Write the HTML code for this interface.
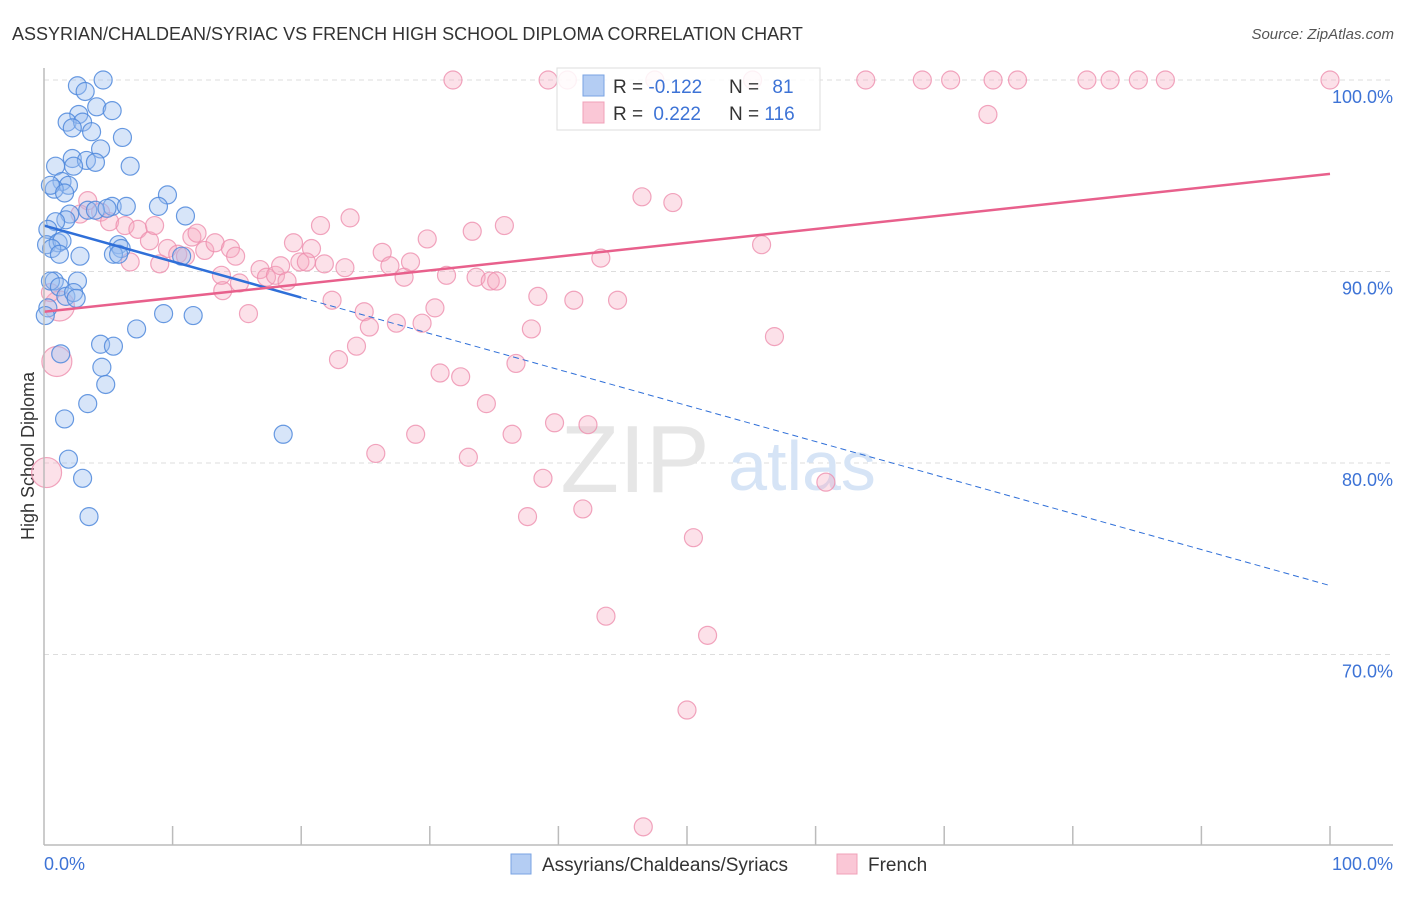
<!DOCTYPE html>
<html><head><meta charset="utf-8"><style>
body{margin:0;background:#fff;font-family:"Liberation Sans",sans-serif;}
svg text{font-family:"Liberation Sans",sans-serif;}
</style></head><body>
<svg id="chart" width="1406" height="892" xmlns="http://www.w3.org/2000/svg">
<text x="12" y="40" font-size="18" fill="#333">ASSYRIAN/CHALDEAN/SYRIAC VS FRENCH HIGH SCHOOL DIPLOMA CORRELATION CHART</text>
<text x="1394" y="39" font-size="15" fill="#555" font-style="italic" text-anchor="end">Source: ZipAtlas.com</text>
<text transform="translate(34,456) rotate(-90)" font-size="18" fill="#333" text-anchor="middle">High School Diploma</text>
<g id="grid"></g>
<g><text x="635" y="492" font-size="96" fill="#e6e6e6" text-anchor="middle" font-family="Liberation Serif,serif">ZIP</text><text x="802" y="490" font-size="70" fill="#d6e4f6" text-anchor="middle">atlas</text></g>
<g id="marks"></g>
<g id="axes"></g>
<g>
<rect x="557" y="68" width="263" height="62" fill="#fff" fill-opacity="0.85" stroke="#ddd"/>
<rect x="583" y="75" width="21" height="21" fill="#b4cdf3" stroke="#7aa3e3"/>
<rect x="583" y="102" width="21" height="21" fill="#fac7d6" stroke="#f0a0b8"/>
<text x="613" y="93" font-size="19" fill="#333">R = <tspan fill="#3d73d6">-0.122</tspan></text>
<text x="729" y="93" font-size="19" fill="#333">N = <tspan fill="#3d73d6" dx="8">81</tspan></text>
<text x="613" y="120" font-size="19" fill="#333">R = <tspan fill="#3d73d6" dx="5">0.222</tspan></text>
<text x="729" y="120" font-size="19" fill="#333">N = <tspan fill="#3d73d6">116</tspan></text>
</g>
<g>
<rect x="511" y="854" width="20" height="20" fill="#b4cdf3" stroke="#7aa3e3"/>
<text x="542" y="871" font-size="19" fill="#333">Assyrians/Chaldeans/Syriacs</text>
<rect x="837" y="854" width="20" height="20" fill="#fac7d6" stroke="#f0a0b8"/>
<text x="868" y="871" font-size="19" fill="#333">French</text>
</g>
</svg>
<script>
const yTicks=[100,90,80,70];
const xTickLabels=["0.0%","100.0%"];
const blueX=[2.6,3.2,4.6,4.1,5.3,2.7,1.8,3.0,3.7,2.2,6.1,4.4,2.2,3.3,4.0,0.9,6.7,2.3,1.4,1.9,0.8,0.5,1.6,5.3,6.4,9.6,8.9,3.4,4.0,4.9,11.0,2.0,1.7,0.9,0.3,0.2,1.1,1.4,0.6,5.8,6.0,5.4,5.8,2.8,10.7,1.2,0.8,0.5,1.2,2.6,1.7,2.3,2.5,0.3,9.3,11.6,7.2,4.4,5.4,1.3,4.5,4.8,3.4,1.6,18.6,1.9,3.0,3.5,0.1];
const blueY=[99.7,99.4,100.0,98.6,98.4,98.2,97.8,97.8,97.3,97.5,97.0,96.4,95.9,95.8,95.7,95.5,95.5,95.5,94.7,94.5,94.3,94.5,94.1,93.4,93.4,94.0,93.4,93.2,93.2,93.3,92.9,93.0,92.7,92.6,92.2,91.4,91.5,91.6,91.2,91.4,91.2,90.9,90.9,90.8,90.8,90.9,89.5,89.5,89.2,89.5,88.7,88.9,88.6,88.1,87.8,87.7,87.0,86.2,86.1,85.7,85.0,84.1,83.1,82.3,81.5,80.2,79.2,77.2,87.7];
const pinkX=[31.8,39.2,40.7,47.5,55.1,63.9,68.3,70.5,73.8,75.7,81.1,82.9,85.1,87.2,100,73.4,46.5,48.9,3.4,2.8,4.4,5.1,6.3,7.3,8.2,8.6,9.6,10.4,11.5,11.9,12.5,13.3,14.5,14.9,15.2,13.9,15.9,16.8,17.3,18.0,18.4,18.9,19.4,19.9,20.8,20.4,21.5,21.8,23.4,23.8,22.4,24.9,25.3,24.3,22.9,26.3,26.9,28.0,28.5,29.8,30.4,29.4,27.4,31.3,33.3,33.6,34.7,35.2,35.8,38.4,41.2,44.6,37.9,36.7,30.8,32.4,34.4,28.9,25.8,33.0,36.4,39.7,42.3,38.8,37.6,41.9,50.5,43.7,51.6,50.0,46.6,55.8,43.3,56.8,60.8,0.2,1.0,1.2,0.5,9.0,6.7,11.0,13.8];
const pinkY=[100,100,100,100,100,100,100,100,100,100,100,100,100,100,100,98.2,93.9,93.6,93.7,93.0,93.1,92.6,92.4,92.2,91.6,92.4,91.2,90.9,91.8,92.0,91.1,91.5,91.2,90.8,89.4,89.0,87.8,90.1,89.7,89.8,90.3,89.5,91.5,90.5,91.2,90.5,92.4,90.4,90.2,92.8,88.5,87.9,87.1,86.1,85.4,91.0,90.3,89.7,90.5,91.7,88.1,87.3,87.3,89.8,92.1,89.7,89.5,89.5,92.4,88.7,88.5,88.5,87.0,85.2,84.7,84.5,83.1,81.5,80.5,80.3,81.5,82.1,82.0,79.2,77.2,77.6,76.1,72.0,71.0,67.1,61.0,91.4,90.7,86.6,79.0,79.5,85.3,88.2,88.9,90.4,90.5,90.8,89.8];
const pinkBig=[95,96,97];
const blueLine=[92.4,73.6];
const blueSolidEnd=20;
const pinkLine=[87.9,95.1];

const NS="http://www.w3.org/2000/svg";
const X=v=>44+v*12.86;
const Y=v=>80+(100-v)*19.15;
function mk(t,a,p){const e=document.createElementNS(NS,t);for(const k in a)e.setAttribute(k,a[k]);p.appendChild(e);return e;}
const grid=document.getElementById('grid'),axes=document.getElementById('axes'),marks=document.getElementById('marks');
yTicks.forEach(v=>{
 const l=mk('line',{x1:44,x2:1393,y1:Y(v),y2:Y(v),stroke:'#ddd','stroke-dasharray':'5,4'},grid);
 
 
 const t=mk('text',{x:1393,y:Y(v)+23,'font-size':18,fill:'#3d73d6','text-anchor':'end'},axes);
 t.textContent=v.toFixed(1)+'%';
 
 
});
mk('line',{x1:44,x2:44,y1:68,y2:845,stroke:'#bbb','stroke-width':1.5},axes);
mk('line',{x1:44,x2:1393,y1:845,y2:845,stroke:'#bbb','stroke-width':1.5},axes);
for(let i=1;i<=10;i++){const tk=mk('line',{x1:X(i*10),x2:X(i*10),y1:826,y2:845,stroke:'#bbb','stroke-width':1.5},axes);
 
 }
const xl0=mk('text',{x:44,y:870,'font-size':18,fill:'#3d73d6'},axes);xl0.textContent=xTickLabels[0];


const xl1=mk('text',{x:1393,y:870,'font-size':18,fill:'#3d73d6','text-anchor':'end'},axes);xl1.textContent=xTickLabels[1];


pinkX.forEach((v,i)=>{
 const big=pinkBig.includes(i);
 const c=mk('circle',{cx:X(v),cy:Y(pinkY[i]),r:big?15:9,fill:'#f7a8c0','fill-opacity':0.35,stroke:'#ee8fae','stroke-opacity':0.8,'stroke-width':1.2},marks);
 
 
});
blueX.forEach((v,i)=>{
 const c=mk('circle',{cx:X(v),cy:Y(blueY[i]),r:9,fill:'#9bbdf0','fill-opacity':0.4,stroke:'#4f88dc','stroke-opacity':0.85,'stroke-width':1.2},marks);
 
 
});
const by=x=>blueLine[0]+(blueLine[1]-blueLine[0])*x/100;
const bl=mk('line',{x1:X(0),y1:Y(by(0)),x2:X(blueSolidEnd),y2:Y(by(blueSolidEnd)),stroke:'#2f6fd8','stroke-width':2.5},marks);


const bd=mk('line',{x1:X(blueSolidEnd),y1:Y(by(blueSolidEnd)),x2:X(100),y2:Y(by(100)),stroke:'#2f6fd8','stroke-width':1,'stroke-dasharray':'6,4'},marks);


const pl=mk('line',{x1:X(0),y1:Y(pinkLine[0]),x2:X(100),y2:Y(pinkLine[1]),stroke:'#e8608c','stroke-width':2.5},marks);


</script>
</body></html>
